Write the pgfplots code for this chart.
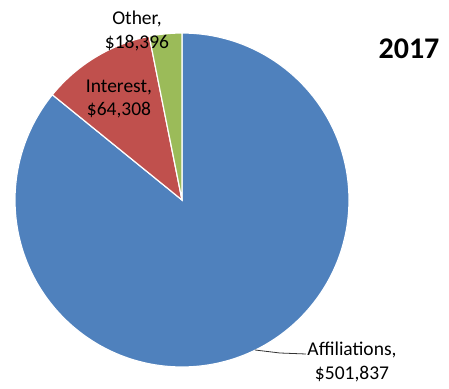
\documentclass[border=0pt]{standalone}
\usepackage{fontspec}
\setmainfont{Carlito}
\usepackage{pgfplots}
\pgfplotsset{compat=1.18}
\definecolor{cAff}{HTML}{4F81BD}
\definecolor{cInt}{HTML}{C0504D}
\definecolor{cOth}{HTML}{9BBB59}
% data (USD)
\def\vAff{501837}
\def\vInt{64308}
\def\vOth{18396}
\pgfkeys{/pgf/fpu=true,/pgf/fpu/output format=fixed}
\pgfmathsetmacro\tot{\vAff+\vInt+\vOth}
\pgfmathsetmacro\aA{90-360*\vAff/\tot}
\pgfmathsetmacro\aB{\aA-360*\vInt/\tot}
\pgfkeys{/pgf/fpu=false}
\begin{document}
\begin{tikzpicture}
\begin{axis}[
  name=pie,
  scale only axis, width=449pt, height=388pt,
  xmin=0, xmax=449, ymin=0, ymax=388,
  hide axis, clip=false,
]
% slices, clockwise from 12 o'clock
\fill[cAff, draw=white, line width=1.2pt] (axis cs:182,188) -- ++(90:167pt) arc[start angle=90, end angle=\aA, radius=167pt] -- cycle;
\fill[cInt, draw=white, line width=1.2pt] (axis cs:182,188) -- ++(\aA:167pt) arc[start angle=\aA, end angle=\aB, radius=167pt] -- cycle;
\fill[cOth, draw=white, line width=1.2pt] (axis cs:182,188) -- ++(\aB:167pt) arc[start angle=\aB, end angle=-270, radius=167pt] -- cycle;
% labels
\node[align=center, font=\fontsize{19.5}{23.5}\selectfont, inner sep=0pt] at (axis cs:137,357) {Other,\\\$18,396};
\node[align=center, font=\fontsize{19.5}{23.5}\selectfont, inner sep=0pt] at (axis cs:119,289) {Interest,\\\$64,308};
\node[align=center, font=\fontsize{19.5}{23.5}\selectfont, inner sep=0pt] at (axis cs:352,26) {Affiliations,\\\$501,837};
\draw[black!80, line width=0.8pt] (axis cs:255,38) -- (axis cs:280,35) -- (axis cs:306,34);
\node[font=\fontsize{30}{36}\selectfont\bfseries, inner sep=0pt] at (axis cs:409,339) {2017};
\end{axis}
\pgfresetboundingbox
\useasboundingbox (pie.south west) rectangle (pie.north east);
\end{tikzpicture}
\end{document}
